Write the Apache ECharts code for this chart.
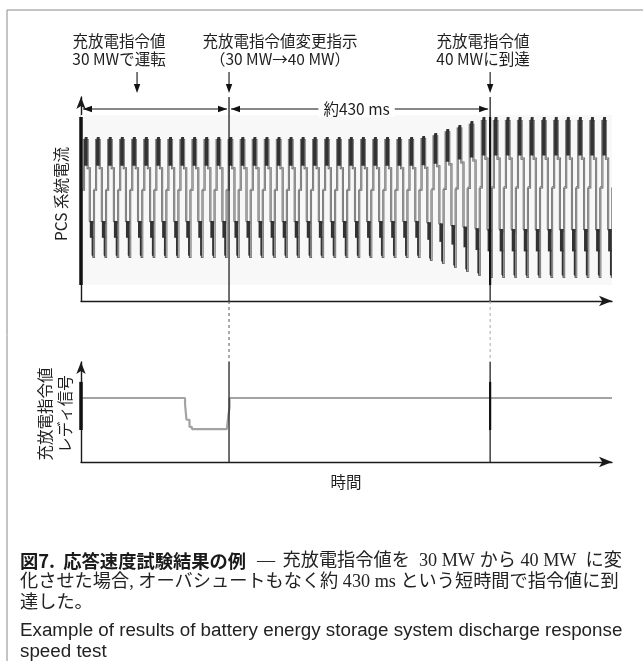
<!DOCTYPE html>
<html><head><meta charset="utf-8">
<script src="https://cdn.jsdelivr.net/npm/echarts@6/dist/echarts.min.js"></script>
<style>html,body{margin:0;padding:0;background:#fff}#c{width:643px;height:661px}</style>
</head><body><div id="c"></div>
<script>
// ---------------- data ----------------
// time axis in ms
const timeRange = [0, 881];
// event times: command change, command reached, annotated "running at 30MW" point
const tChange = 245.6;
const tReach = 678.8;
const tRun = 93;
// peak time of every 50 Hz cycle of the PCS current (ms)
const peakTimes = [8,28,48,68,88,108,128,148,168,188,208,228,248,268,288,308,328,348,368,388,408,428,448,468,488,508,528,548,568,588,608,628,648,668,688,708,728,748,768,788,808,828,848,868];
// positive peak amplitude of each cycle (MW-equivalent units)
const topAmp = [30,30,30,30,30,30,30,30,30,30,30,30,30,30,30,30,30,30,30,30,30,30,30,30,30,30,30,30,30.5,32,34,36,38,40,40,40,40,40,40,40,40,40,40,40];
// negative peak amplitude of each cycle
const botAmp = [30,30,30,30,30,30,30,30,30,30,30,30,30,30,30,30,30,30,30,30,30,30,30,30,30,30,30,30,31.5,33,35,37,39,40,40,40,40,40,40,40,40,40,40,40];
// waveform shape of one cycle: [ms offset from peak, level as fraction of amplitude]
const thinPath = [[-6.7,0.12],[-3,0.12],[-3,0.95],[3,0.95],[3,0.48],[6.6,0.48],[6.6,-0.40],[12.6,-0.45],[12.6,-1.0],[13.6,-1.0],[13.6,0.12]];
const upperBar = [[-3,0.52],[-3,0.94],[-1.6,1.0],[3,1.0],[3,0.52]];
const lowerBarWide = [[6.6,-0.40],[12.6,-0.40],[12.6,-0.68],[6.6,-0.68]];
const lowerBarNarrow = [[9.6,-0.66],[12.6,-0.66],[12.6,-1.0],[9.6,-0.97]];
// ready signal of the charge/discharge command (1 = high, 0 = low)
const readyT = [0,172.6,172.6,175,175,180,180,184,184,242,242,244.5,244.5,246.5,246.5,881];
const readyV = [1,1,0.8,0.8,0.3,0.3,0.07,0.07,0,0,0,0.45,0.45,0.7,1,1];
// scale markers on the axes
const currentMarker = [40, -44];
const readyMarker = [1.52, -0.03];
const plotBand = [[0, 881, 41, -44]];

// -------------- build --------------
const chart = echarts.init(document.getElementById('c'));
const cycles = peakTimes.map((t, i) => [t, topAmp[i], botAmp[i]]);
const readyData = readyT.map((t, i) => [t, readyV[i]]);
const JP = '"Noto Sans CJK JP", "Noto Sans", sans-serif';

function axisCommon(grid, min, max, sym) {
  return {
    gridIndex: grid, type: 'value', min: min, max: max,
    axisLine: { show: true, onZero: false, symbol: ['none', 'arrow'], symbolSize: sym, lineStyle: { color: '#1a1a1a', width: 1.4 } },
    axisTick: { show: false }, axisLabel: { show: false }, splitLine: { show: false }
  };
}

function renderWave(params, api) {
  const t = api.value(0), a = api.value(1), b = api.value(2);
  const P = pts => pts.map(p => api.coord([t + p[0], p[1] >= 0 ? p[1] * a : p[1] * b]));
  const pts = P(thinPath);
  return {
    type: 'group',
    children: [
      { type: 'polyline', shape: { points: pts }, style: { stroke: '#646464', lineWidth: 2.1, fill: null } },
      { type: 'polyline', shape: { points: pts }, style: { stroke: '#cdcdcd', lineWidth: 0.6, fill: null } },
      { type: 'polygon', shape: { points: P(upperBar) }, style: { fill: '#323232' } },
      { type: 'polygon', shape: { points: P(lowerBarWide) }, style: { fill: '#323232' } },
      { type: 'polygon', shape: { points: P(lowerBarNarrow) }, style: { fill: '#323232' } }
    ]
  };
}

function vline(xi, yi, t, y0, y1, w, col, z) {
  return { type: 'line', xAxisIndex: xi, yAxisIndex: yi, data: [[t, y0], [t, y1]], symbol: 'none', clip: false,
    lineStyle: { color: col, width: w }, silent: true, z: z, animation: false };
}

chart.setOption({
  animation: false,
  grid: [
    { left: 81, top: 97, width: 531, height: 204 },
    { left: 81, top: 362, width: 531, height: 100 }
  ],
  xAxis: [axisCommon(0, timeRange[0], timeRange[1], [8, 13]), axisCommon(1, timeRange[0], timeRange[1], [8, 13])],
  yAxis: [axisCommon(0, -52, 50, [7, 12]), axisCommon(1, -1.06, 2.16, [7, 12])],
  series: [
    { type: 'custom', xAxisIndex: 0, yAxisIndex: 0, data: plotBand, z: 1,
      renderItem: (p, api) => {
        const a = api.coord([api.value(0), api.value(2)]), b = api.coord([api.value(1), api.value(3)]);
        return { type: 'rect', shape: { x: a[0], y: a[1], width: b[0] - a[0], height: b[1] - a[1] }, style: { fill: '#f8f8f8' } };
      } },
    { type: 'custom', xAxisIndex: 0, yAxisIndex: 0, data: cycles, renderItem: renderWave, clip: true, z: 2 },
    vline(0, 0, 0, currentMarker[0], currentMarker[1], 3.5, '#111', 5),
    vline(0, 0, tChange, 50, -52, 1.2, '#111', 5),
    vline(0, 0, tReach, 50, -52, 1.2, '#111', 5),
    vline(0, 0, tReach, currentMarker[0], currentMarker[1], 2.2, '#111', 5),
    { type: 'line', xAxisIndex: 1, yAxisIndex: 1, data: readyData, symbol: 'none', lineStyle: { color: '#a3a3a3', width: 2.2 }, z: 3 },
    vline(1, 1, 0, readyMarker[0], readyMarker[1], 3.5, '#111', 5),
    vline(1, 1, tChange, 2.16, -1.06, 1.2, '#111', 5),
    vline(1, 1, tReach, 2.16, -1.06, 1.2, '#111', 5),
    vline(1, 1, tReach, readyMarker[0], readyMarker[1], 2.2, '#111', 5)
  ]
});

// -------------- annotations positioned through the axes --------------
const X = t => chart.convertToPixel({ xAxisIndex: 0 }, t);
const yTopAxis = chart.convertToPixel({ yAxisIndex: 0 }, -52);
const yBotTop = chart.convertToPixel({ yAxisIndex: 1 }, 2.16);
const xC = X(tChange), xR = X(tReach), x0 = X(0), xRun = X(tRun);
const dimY = 109, arrTop = 72, arrTip = 93;
const g = [];
const txt = (x, y, s, size, extra) => Object.assign({ type: 'text', x: x, y: y, z: 50,
  style: Object.assign({ text: s, fontFamily: JP, fontSize: size, fill: '#1e1e1e', align: 'center', verticalAlign: 'middle' }, extra || {}) });
const line = (x1, y1, x2, y2, w, col, dash) => ({ type: 'line', z: 40, shape: { x1, y1, x2, y2 }, style: { stroke: col || '#111', lineWidth: w || 1, lineDash: dash || null } });
const headR = (x, y) => ({ type: 'polygon', z: 41, shape: { points: [[x, y], [x - 9, y - 3.2], [x - 9, y + 3.2]] }, style: { fill: '#111' } });
const headL = (x, y) => ({ type: 'polygon', z: 41, shape: { points: [[x, y], [x + 9, y - 3.2], [x + 9, y + 3.2]] }, style: { fill: '#111' } });
const headD = (x, y) => ({ type: 'polygon', z: 41, shape: { points: [[x, y], [x - 3.2, y - 9], [x + 3.2, y - 9]] }, style: { fill: '#111' } });

// frame
g.push(line(7, 10, 643, 10, 1, '#8a8a8a'));
g.push(line(7, 10, 7, 661, 1, '#8a8a8a'));
// dashed connectors between panels
g.push(line(xC, yTopAxis, xC, yBotTop, 1, '#555', [3, 3]));
g.push(line(xR, yTopAxis, xR, yBotTop, 1, '#aaa', [3, 3]));
// dimension lines
g.push(line(x0 + 2, dimY, xC - 2, dimY, 1.1));
g.push(headL(x0 + 2, dimY), headR(xC - 2, dimY));
g.push(line(xC + 2, dimY, xR - 2, dimY, 1.1));
g.push(headL(xC + 2, dimY), headR(xR - 2, dimY));
g.push(txt((xC + xR) / 2 - 3, dimY, '約430 ms', 15.5, { backgroundColor: '#fff', padding: [0, 5] }));
// down arrows
[xRun, xC, xR].forEach(x => { g.push(line(x, arrTop, x, arrTip - 4, 1.1)); g.push(headD(x, arrTip)); });
// top annotation texts
g.push(txt(119, 41, '充放電指令値', 15.5), txt(119, 59, '30 MWで運転', 15.5));
g.push(txt(280, 41, '充放電指令値変更指示', 15.5), txt(280, 59, '（30 MW→40 MW）', 15.5));
g.push(txt(483, 41, '充放電指令値', 15.5), txt(483, 59, '40 MWに到達', 15.5));
// axis titles
g.push(Object.assign(txt(61, 194, 'PCS 系統電流', 15.5), { rotation: Math.PI / 2 }));
g.push(Object.assign(txt(55, 414, '充放電指令値\nレディ信号', 15.5, { lineHeight: 20 }), { rotation: Math.PI / 2 }));
g.push(txt(346, 482, '時間', 15.5));
// caption
const SER = '"Liberation Serif", "Noto Sans CJK JP", serif';
const capStyle = { align: 'left', fontFamily: SER, fontSize: 18.2, fill: '#222' };
g.push(txt(20, 561, '図7.  応答速度試験結果の例', 18.3, { align: 'left', fontWeight: 'bold', fill: '#1a1a1a' }));
g.push(txt(266, 561, '—', 18.2, Object.assign({}, capStyle, { align: 'center' })));
g.push(txt(622, 561, '充放電指令値を  30 MW から 40 MW  に変', 18.2, Object.assign({}, capStyle, { align: 'right' })));
g.push(txt(20, 582, '化させた場合, オーバシュートもなく約 430 ms という短時間で指令値に到', 18.2, capStyle));
g.push(txt(20, 603, '達した。', 18.2, capStyle));
const engStyle = { align: 'left', fontFamily: '"Liberation Sans", Arial, sans-serif', fontSize: 18.8, fill: '#222' };
g.push(txt(20, 631, 'Example of results of battery energy storage system discharge response', 18.8, engStyle));
g.push(txt(20, 652, 'speed test', 18.8, engStyle));

chart.setOption({ graphic: g });
</script>
</body></html>
